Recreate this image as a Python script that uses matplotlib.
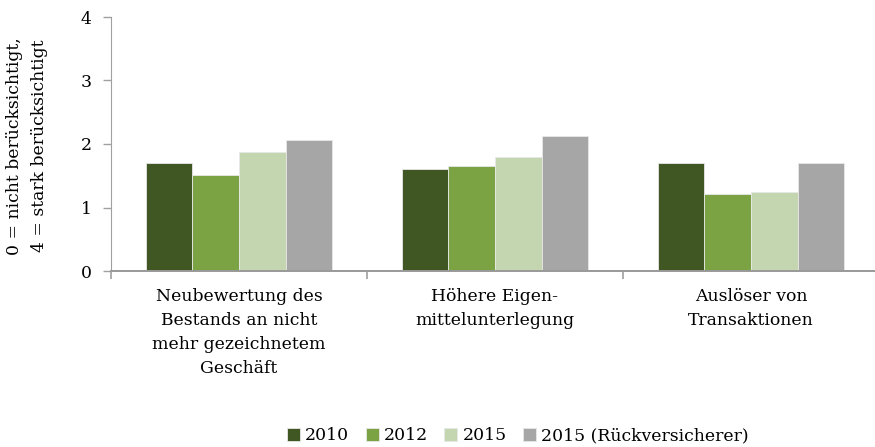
import matplotlib
matplotlib.use("Agg")
import matplotlib.pyplot as plt
import numpy as np

categories = [
    "Neubewertung des\nBestands an nicht\nmehr gezeichnetem\nGeschäft",
    "Höhere Eigen-\nmittelunterlegung",
    "Auslöser von\nTransaktionen",
]
series_names = ["2010", "2012", "2015", "2015 (Rückversicherer)"]
values_2010 = [1.70, 1.60, 1.70]
values_2012 = [1.51, 1.65, 1.21]
values_2015 = [1.87, 1.80, 1.25]
values_rueck = [2.06, 2.12, 1.70]
colors = ["#405623", "#7BA344", "#C3D6AF", "#A6A6A6"]

plt.rcParams["font.family"] = ["DejaVu Serif"]
fs = 12.4

fig = plt.figure(figsize=(8.75, 4.47), dpi=100)
ax = fig.add_axes([111 / 875, 1 - 271 / 447, 768 / 875, 254 / 447])

x = np.arange(len(categories))
width = 0.182
all_vals = [values_2010, values_2012, values_2015, values_rueck]
for i, (vals, name, c) in enumerate(zip(all_vals, series_names, colors)):
    ax.bar(x + (i - 1.5) * width, vals, width, color=c, label=name,
           edgecolor="#E8E8E8", linewidth=0.6, zorder=2)

ax.set_xlim(-0.5, 2.5)
ax.set_ylim(0, 4)
ax.set_yticks([0, 1, 2, 3, 4])
ax.set_xticks([-0.5, 0.5, 1.5, 2.5])
ax.set_xticklabels([])
ax.set_xticks(x, minor=True)
ax.set_xticklabels(categories, minor=True, fontsize=fs, linespacing=1.55)
ax.tick_params(axis="x", which="minor", length=0, pad=12)
ax.tick_params(axis="x", which="major", length=6, width=1.2, color="#A0A0A0")
ax.tick_params(axis="y", length=6, width=1.0, color="#A0A0A0", labelsize=fs, pad=8)

for s in ["top", "right"]:
    ax.spines[s].set_visible(False)
ax.spines["left"].set_color("#A0A0A0")
ax.spines["bottom"].set_color("#999999")
ax.spines["bottom"].set_linewidth(1.4)

fig.text(27 / 875, 1 - 146 / 447, "0 = nicht berücksichtigt,\n4 = stark berücksichtigt",
         rotation=90, ha="center", va="center", fontsize=fs, linespacing=1.55)

leg = fig.legend(loc="center", bbox_to_anchor=(518 / 875, 1 - 436 / 447), ncol=4,
                 frameon=False, fontsize=fs, handlelength=0.75, handleheight=0.75,
                 handletextpad=0.3, columnspacing=0.95)

fig.savefig("out.png", dpi=100)
